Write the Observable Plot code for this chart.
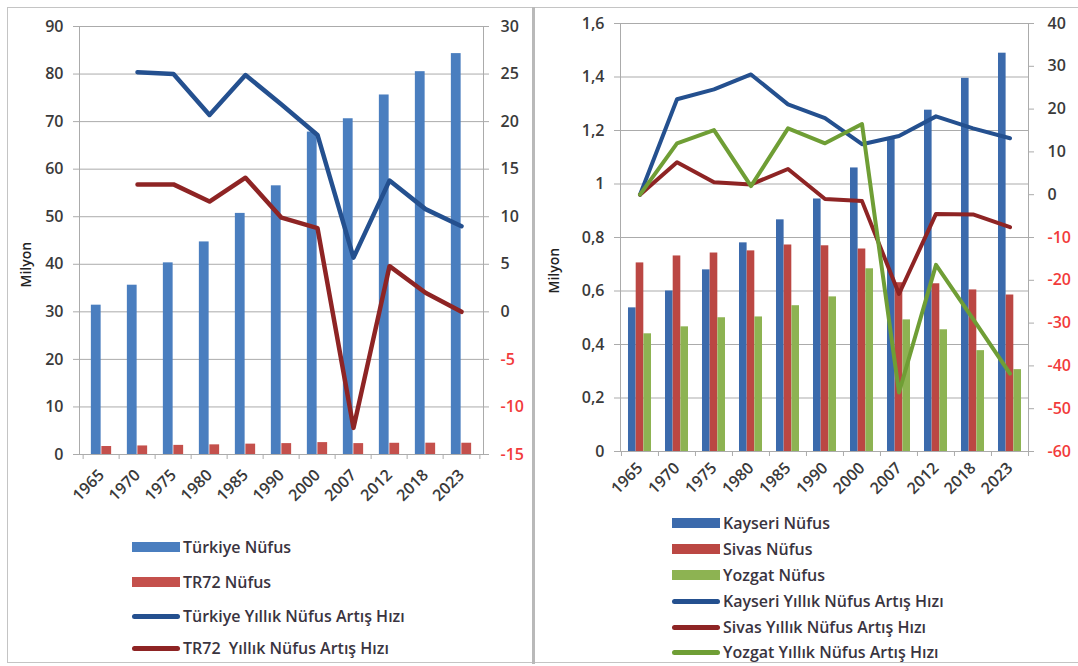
<!DOCTYPE html>
<html>
<head>
<meta charset="utf-8">
<script src="https://cdn.jsdelivr.net/npm/d3@7"></script>
<script src="https://cdn.jsdelivr.net/npm/@observablehq/plot@0.6"></script>
<style>
  body { margin: 0; background: #fff; font-family: "Open Sans", sans-serif; }
  #page { position: relative; width: 1078px; height: 666px; overflow: hidden; background: #fff; }
  .panel { position: absolute; top: 0; }
  .panel svg { background: transparent; }
  .frame { position: absolute; left: 7px; top: 7px; width: 1075px; height: 656px; border: 1px solid #c4c4c4; box-sizing: border-box; pointer-events: none; }
  .divider { position: absolute; left: 532px; top: 7px; width: 3px; height: 657px; background: #b9b9b9; pointer-events: none; }
  .leg { position: absolute; display: flex; align-items: center; transform: translateY(-50%); font-size: 16px; font-weight: 600; color: #3a3440; white-space: pre; }
  .sw { display: inline-block; width: 48px; margin-right: 3px; }
  .sw.bar { height: 10px; }
  .sw.line { height: 5px; border-radius: 3px; }
</style>
</head>
<body>
<div id="page"></div>
<script>
// ---------- data ----------
const years = ["1965","1970","1975","1980","1985","1990","2000","2007","2012","2018","2023"];

// Left chart (Milyon / ‰)
const turkiyeNufus = [31.4, 35.6, 40.3, 44.7, 50.7, 56.5, 67.8, 70.6, 75.6, 80.5, 84.3];
const tr72Nufus    = [1.68, 1.80, 1.92, 2.03, 2.18, 2.29, 2.50, 2.29, 2.36, 2.38, 2.37];
const turkiyeHiz   = [null, 25.2, 25.0, 20.7, 24.9, 21.8, 18.6, 5.7, 13.8, 10.8, 9.0];
const tr72Hiz      = [null, 13.4, 13.4, 11.6, 14.1, 9.9, 8.8, -12.2, 4.8, 2.0, 0.0];
const leftTicks    = [0, 10, 20, 30, 40, 50, 60, 70, 80, 90];
const leftRTicks   = [-15, -10, -5, 0, 5, 10, 15, 20, 25, 30];

// Right chart (Milyon / ‰)
const kayseriNufus = [0.537, 0.600, 0.679, 0.780, 0.866, 0.944, 1.060, 1.168, 1.276, 1.395, 1.489];
const sivasNufus   = [0.705, 0.731, 0.742, 0.750, 0.772, 0.769, 0.757, 0.631, 0.627, 0.604, 0.585];
const yozgatNufus  = [0.440, 0.466, 0.500, 0.503, 0.545, 0.578, 0.683, 0.492, 0.455, 0.377, 0.306];
const kayseriHiz   = [0, 22.3, 24.6, 28.1, 21.1, 17.9, 11.8, 13.7, 18.3, 15.5, 13.2];
const sivasHiz     = [0, 7.6, 2.9, 2.4, 6.0, -1.0, -1.5, -23.2, -4.5, -4.6, -7.6];
const yozgatHiz    = [0, 12.0, 15.1, 2.0, 15.5, 12.0, 16.5, -46.2, -16.4, -29.0, -41.8];
const rightTicks   = [0, 0.2, 0.4, 0.6, 0.8, 1.0, 1.2, 1.4, 1.6];
const rightRTicks  = [-60, -50, -40, -30, -20, -10, 0, 10, 20, 30, 40];

const leftLegend  = ["Türkiye Nüfus", "TR72 Nüfus", "Türkiye Yıllık Nüfus Artış Hızı", "TR72  Yıllık Nüfus Artış Hızı"];
const rightLegend = ["Kayseri Nüfus", "Sivas Nüfus", "Yozgat Nüfus", "Kayseri Yıllık Nüfus Artış Hızı", "Sivas Yıllık Nüfus Artış Hızı", "Yozgat Yıllık Nüfus Artış Hızı"];

// ---------- styles ----------
const textC = "#3a3a3a", gridC = "#ababab", negC = "#f23b3b";
const blueBar = "#4a7ebf", redBar = "#c4504c", greenBar = "#93b955";
const blueBar2 = "#3b6aac", redBar2 = "#bb4743", greenBar2 = "#8db352";
const blueLine = "#24508f", redLine = "#8e2424", greenLine = "#6f9e35";
const font = {fontFamily: "'Open Sans', sans-serif", fontSize: "16px", fontWeight: 600};

const page = document.getElementById("page");

function panel(left, width, node) {
  const d = document.createElement("div");
  d.className = "panel";
  d.style.left = left + "px";
  d.style.width = width + "px";
  d.appendChild(node);
  page.appendChild(d);
}

// ---------- left chart ----------
{
  const W = 532, H = 520, mL = 79, mR = 49, mT = 26, mB = H - 454;
  const bw = (W - mL - mR) / years.length;
  const each = 10.5, start = (bw - 2 * each) / 2;
  const toL = v => (v + 15) * 2;          // right axis (‰) -> left axis domain
  const fromL = v => v / 2 - 15;
  const rows = years.map((y, i) => ({year: y, tur: turkiyeNufus[i], tr72: tr72Nufus[i], turH: turkiyeHiz[i], trH: tr72Hiz[i]}));
  const lineOpts = {strokeWidth: 4.5, strokeLinejoin: "round", strokeLinecap: "round"};

  const chart = Plot.plot({
    width: W, height: H, marginLeft: mL, marginRight: mR, marginTop: mT, marginBottom: mB,
    style: {...font, background: "transparent", overflow: "visible"},
    x: {type: "band", domain: years, padding: 0, axis: null},
    y: {domain: [0, 90], axis: null},
    marks: [
      Plot.gridY(leftTicks, {stroke: gridC, strokeOpacity: 1}),
      Plot.frame({stroke: gridC}),
      Plot.barY(rows, {x: "year", y: "tur", fill: blueBar, insetLeft: start, insetRight: bw - start - each}),
      Plot.barY(rows, {x: "year", y: "tr72", fill: redBar, insetLeft: start + each, insetRight: bw - start - 2 * each}),
      Plot.line(rows.filter(d => d.turH != null), {x: "year", y: d => toL(d.turH), stroke: blueLine, ...lineOpts}),
      Plot.line(rows.filter(d => d.trH != null), {x: "year", y: d => toL(d.trH), stroke: redLine, ...lineOpts}),
      Plot.axisY({ticks: leftTicks, tickSize: 6, tickPadding: 10, stroke: gridC, fill: textC, label: null, fontWeight: 600}),
      Plot.axisY({anchor: "right", ticks: leftRTicks.filter(v => v >= 0).map(toL), tickFormat: d => String(Math.round(fromL(d))), tickSize: 5, tickPadding: 12, stroke: gridC, fill: textC, label: null, textAnchor: "start", fontWeight: 600}),
      Plot.axisY({anchor: "right", ticks: leftRTicks.filter(v => v < 0).map(toL), tickFormat: d => String(Math.round(fromL(d))), tickSize: 5, tickPadding: 12, stroke: gridC, fill: negC, label: null, textAnchor: "start", fontWeight: 600}),
      Plot.axisX({ticks: years, tickSize: 0, tickPadding: 18, tickRotate: -45, fill: textC, label: null, fontWeight: 600}),
      Plot.axisX({ticks: years, tickSize: 5, tickFormat: () => "", dx: -bw / 2, stroke: gridC, label: null}),
      Plot.axisX({ticks: [years[years.length - 1]], tickSize: 5, tickFormat: () => "", dx: bw / 2, stroke: gridC, label: null}),
      Plot.text(["Milyon"], {frameAnchor: "left", rotate: -90, dx: -53, dy: 47, fill: "#222", fontSize: 14, fontWeight: 600})
    ]
  });
  panel(0, W, chart);
}

// ---------- right chart ----------
{
  const W = 543, H = 520, mL = 85, mR = 50, mT = 23, mB = H - 451;
  const bw = (W - mL - mR) / years.length;
  const each = 7.7, start = (bw - 3 * each) / 2;
  const toL = v => (v + 60) / 100 * 1.6;
  const fromL = v => v / 1.6 * 100 - 60;
  const comma = d => (Math.round(d * 10) / 10).toString().replace(".", ",");
  const rows = years.map((y, i) => ({year: y, k: kayseriNufus[i], s: sivasNufus[i], yz: yozgatNufus[i], kH: kayseriHiz[i], sH: sivasHiz[i], yH: yozgatHiz[i]}));
  const lineOpts = {strokeWidth: 4, strokeLinejoin: "round", strokeLinecap: "round"};

  const chart = Plot.plot({
    width: W, height: H, marginLeft: mL, marginRight: mR, marginTop: mT, marginBottom: mB,
    style: {...font, background: "transparent", overflow: "visible"},
    x: {type: "band", domain: years, padding: 0, axis: null},
    y: {domain: [0, 1.6], axis: null},
    marks: [
      Plot.gridY(rightTicks, {stroke: gridC, strokeOpacity: 1}),
      Plot.frame({stroke: gridC}),
      Plot.barY(rows, {x: "year", y: "k", fill: blueBar2, insetLeft: start, insetRight: bw - start - each}),
      Plot.barY(rows, {x: "year", y: "s", fill: redBar2, insetLeft: start + each, insetRight: bw - start - 2 * each}),
      Plot.barY(rows, {x: "year", y: "yz", fill: greenBar2, insetLeft: start + 2 * each, insetRight: bw - start - 3 * each}),
      Plot.line(rows, {x: "year", y: d => toL(d.kH), stroke: blueLine, ...lineOpts}),
      Plot.line(rows, {x: "year", y: d => toL(d.sH), stroke: redLine, ...lineOpts}),
      Plot.line(rows, {x: "year", y: d => toL(d.yH), stroke: greenLine, ...lineOpts}),
      Plot.axisY({ticks: rightTicks, tickFormat: comma, tickSize: 6, tickPadding: 10, stroke: gridC, fill: textC, label: null, fontWeight: 600}),
      Plot.axisY({anchor: "right", ticks: rightRTicks.filter(v => v >= 0).map(toL), tickFormat: d => String(Math.round(fromL(d))), tickSize: 5, tickPadding: 14, stroke: gridC, fill: textC, label: null, textAnchor: "start", fontWeight: 600}),
      Plot.axisY({anchor: "right", ticks: rightRTicks.filter(v => v < 0).map(toL), tickFormat: d => String(Math.round(fromL(d))), tickSize: 5, tickPadding: 14, stroke: gridC, fill: negC, label: null, textAnchor: "start", fontWeight: 600}),
      Plot.axisX({ticks: years, tickSize: 0, tickPadding: 14, tickRotate: -45, fill: textC, label: null, fontWeight: 600}),
      Plot.axisX({ticks: years, tickSize: 5, tickFormat: () => "", dx: -bw / 2, stroke: gridC, label: null}),
      Plot.axisX({ticks: [years[years.length - 1]], tickSize: 5, tickFormat: () => "", dx: bw / 2, stroke: gridC, label: null}),
      Plot.text(["Milyon"], {frameAnchor: "left", rotate: -90, dx: -66, dy: 56, fill: "#222", fontSize: 14, fontWeight: 600})
    ]
  });
  panel(535, W, chart);
}

// ---------- legends ----------
function legend(items, kinds, colors, left, ys) {
  items.forEach((label, i) => {
    const row = document.createElement("div");
    row.className = "leg";
    row.style.left = left + "px";
    row.style.top = ys[i] + "px";
    const sw = document.createElement("span");
    sw.className = "sw " + kinds[i];
    sw.style.background = colors[i];
    const t = document.createElement("span");
    t.textContent = label;
    row.appendChild(sw);
    row.appendChild(t);
    page.appendChild(row);
  });
}
legend(leftLegend, ["bar", "bar", "line", "line"], [blueBar, redBar, blueLine, redLine], 132, [547, 582, 616, 648]);
legend(rightLegend, ["bar", "bar", "bar", "line", "line", "line"], [blueBar2, redBar2, greenBar2, blueLine, redLine, greenLine], 672, [523, 549, 575, 601, 627, 652]);

// ---------- panel borders ----------
const fr = document.createElement("div"); fr.className = "frame"; page.appendChild(fr);
const dv = document.createElement("div"); dv.className = "divider"; page.appendChild(dv);
</script>
</body>
</html>
